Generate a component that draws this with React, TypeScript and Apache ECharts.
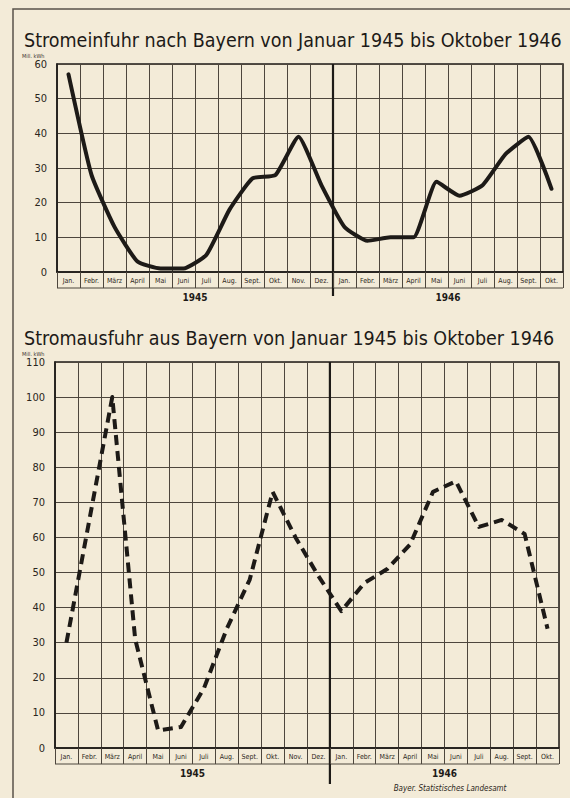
import React, { useEffect, useRef } from "react";
import * as echarts from "echarts";

const months = [
  "Jan.", "Febr.", "März", "April", "Mai", "Juni", "Juli", "Aug.", "Sept.", "Okt.", "Nov.", "Dez.",
  "Jan.", "Febr.", "März", "April", "Mai", "Juni", "Juli", "Aug.", "Sept.", "Okt.",
];
const importValues = [57, 28, 13, 3, 1, 1, 5, 18, 27, 28, 39, 25, 13, 9, 10, 10, 26, 22, 25, 34, 39, 24];
const exportValues = [30, 65, 100, 31, 5, 6, 17, 34, 48, 73, 60, 49, 39, 47, 51, 58, 73, 76, 63, 65, 61, 34];
const years = ["1945", "1946"];
const titles = [
  "Stromeinfuhr nach Bayern von Januar 1945 bis Oktober 1946",
  "Stromausfuhr aus Bayern von Januar 1945 bis Oktober 1946",
];
const unitLabel = "Mill. kWh";
const source = "Bayer. Statistisches Landesamt";

const INK = "#1d1a17";
const GRID = "#4d463d";
const BG = "#f3ebd8";
const FONT = "'DejaVu Sans Condensed', 'DejaVu Sans', sans-serif";

export default function App() {
  const ref = useRef<HTMLDivElement>(null);
  useEffect(() => {
    if (!ref.current) return;
    const chart = echarts.init(ref.current, undefined, { renderer: "svg" });
    const grids = [
      { left: 57, top: 64, width: 506, height: 208 },
      { left: 55, top: 362, width: 504, height: 386 },
    ];
    const xAxisBase = (gi: number) => ({
      type: "category" as const,
      gridIndex: gi,
      data: months,
      boundaryGap: true,
      axisLine: { show: true, lineStyle: { color: INK, width: 1.5 } },
      axisTick: { show: true, interval: 0, length: 16, lineStyle: { color: GRID, width: 1 } },
      axisLabel: { interval: 0, fontSize: 7, color: "#2b2620", margin: 5, fontFamily: FONT },
      splitLine: { show: true, interval: 0, lineStyle: { color: GRID, width: 1 } },
    });
    const yAxisBase = (gi: number, max: number) => ({
      type: "value" as const,
      gridIndex: gi,
      min: 0,
      max,
      interval: 10,
      axisLine: { show: true, lineStyle: { color: INK, width: 1.5 } },
      axisTick: { show: false },
      axisLabel: { fontSize: 11, color: "#2b2620", margin: 10, fontFamily: FONT },
      splitLine: { show: true, lineStyle: { color: GRID, width: 1 } },
    });
    chart.setOption({
      animation: false,
      backgroundColor: BG,
      grid: grids.map((g) => ({ ...g, show: true, borderColor: INK, borderWidth: 1.5, backgroundColor: "transparent" })),
      xAxis: [xAxisBase(0), xAxisBase(1)],
      yAxis: [yAxisBase(0, 60), yAxisBase(1, 110)],
      series: [
        {
          type: "line",
          xAxisIndex: 0,
          yAxisIndex: 0,
          data: importValues,
          symbol: "none",
          smooth: 0.15,
          lineStyle: { color: INK, width: 4, join: "round", cap: "round" },
        },
        {
          type: "line",
          xAxisIndex: 1,
          yAxisIndex: 1,
          data: exportValues,
          symbol: "none",
          smooth: false,
          lineStyle: { color: INK, width: 4, type: [10, 6], join: "round" },
        },
      ],
    });
    const px = (gi: number, idx: number) => chart.convertToPixel({ xAxisIndex: gi }, idx as any) as number;
    const graphics: any[] = [
      {
        type: "rect",
        shape: { x: 13, y: 9, width: 562, height: 800 },
        style: { fill: "none", stroke: "#5a534a", lineWidth: 1.5 },
        silent: true,
      },
    ];
    grids.forEach((g, gi) => {
      const bottom = g.top + g.height;
      graphics.push({
        type: "line",
        shape: { x1: g.left, y1: bottom + 16, x2: g.left + g.width, y2: bottom + 16 },
        style: { stroke: GRID, lineWidth: 1 },
      });
      const dx = (px(gi, 11) + px(gi, 12)) / 2;
      graphics.push({
        type: "line",
        shape: { x1: dx, y1: g.top, x2: dx, y2: bottom + (gi === 0 ? 24 : 36) },
        style: { stroke: INK, lineWidth: 2.2 },
      });
      graphics.push({
        type: "text",
        x: (px(gi, 0) + px(gi, 11)) / 2,
        y: bottom + 25,
        style: { text: years[0], fontSize: 10, fontWeight: "bold", fill: INK, align: "center", verticalAlign: "middle", fontFamily: FONT },
      });
      graphics.push({
        type: "text",
        x: (px(gi, 12) + px(gi, 21)) / 2,
        y: bottom + 25,
        style: { text: years[1], fontSize: 10, fontWeight: "bold", fill: INK, align: "center", verticalAlign: "middle", fontFamily: FONT },
      });
      graphics.push({
        type: "text",
        x: 24,
        y: gi === 0 ? 40 : 338,
        style: { text: titles[gi], fontSize: 19.5, fill: INK, align: "left", verticalAlign: "middle", fontFamily: FONT },
      });
      graphics.push({
        type: "text",
        x: 22,
        y: gi === 0 ? 56 : 354,
        style: { text: unitLabel, fontSize: 5.5, fill: "#3a342d", align: "left", verticalAlign: "middle", fontFamily: FONT },
      });
    });
    graphics.push({
      type: "text",
      x: 450,
      y: 788,
      style: { text: source, fontSize: 8, fontStyle: "italic", fill: "#2b2620", align: "center", verticalAlign: "middle", fontFamily: FONT },
    });
    chart.setOption({ graphic: graphics });
    return () => chart.dispose();
  }, []);
  return (
    <div
      ref={ref}
      style={{ position: "fixed", left: 0, top: 0, width: 570, height: 798, background: BG }}
    />
  );
}
